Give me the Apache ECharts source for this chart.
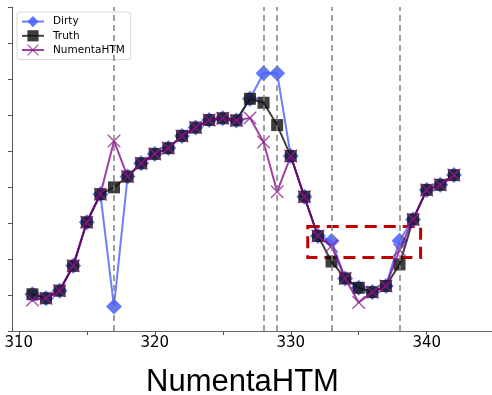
<!DOCTYPE html>
<html>
<head>
<meta charset="utf-8">
<script src="https://cdn.jsdelivr.net/npm/echarts@6/dist/echarts.min.js"></script>
<style>
  html, body { margin: 0; padding: 0; background: #fff; }
  #chart { width: 492px; height: 395px; }
</style>
</head>
<body>
<div id="chart"></div>
<script>
// time steps
var steps = [311, 312, 313, 314, 315, 316, 317, 318, 319, 320, 321, 322, 323, 324, 325, 326,
  327, 328, 329, 330, 331, 332, 333, 334, 335, 336, 337, 338, 339, 340, 341, 342];

var truth = [1.02, 0.91, 1.12, 1.81, 3.02, 3.80, 3.99, 4.29, 4.66, 4.92, 5.08, 5.42, 5.65, 5.86, 5.91, 5.85,
  6.45, 6.34, 5.72, 4.86, 3.73, 2.64, 1.93, 1.46, 1.20, 1.08, 1.25, 1.85, 3.10, 3.92, 4.06, 4.33];

var dirty = [1.02, 0.91, 1.12, 1.81, 3.02, 3.80, 0.68, 4.29, 4.66, 4.92, 5.08, 5.42, 5.65, 5.86, 5.91, 5.85,
  6.45, 7.16, 7.16, 4.86, 3.73, 2.64, 2.50, 1.46, 1.20, 1.08, 1.25, 2.51, 3.10, 3.92, 4.06, 4.33];

var numenta = [0.86, 0.91, 1.12, 1.81, 3.02, 3.80, 5.28, 4.29, 4.66, 4.92, 5.08, 5.42, 5.65, 5.86, 5.91, 5.85,
  5.92, 5.25, 3.87, 4.86, 3.73, 2.64, 2.36, 1.46, 0.79, 1.08, 1.25, 2.25, 3.10, 3.92, 4.06, 4.33];

// injected error positions
var errorSteps = [317, 328, 329, 333, 338];

// highlighted box: [x0, y0], [x1, y1]
var boxFrom = [331.25, 2.9];
var boxTo = [339.55, 2.04];

var xLabels = [310, 320, 330, 340];
var xTicks = [310, 315, 320, 325, 330, 335, 340, 345];

function pairs(vals) {
  return steps.map(function (s, i) { return [s, vals[i]]; });
}

// thin "x" marker
var xMark = 'path://M0,0L0.8,0L5,4.2L9.2,0L10,0L10,0.8L5.8,5L10,9.2L10,10L9.2,10L5,5.8L0.8,10L0,10L0,9.2L4.2,5L0,0.8Z';

var myChart = echarts.init(document.getElementById('chart'));
var option = {
  animation: false,
  textStyle: { fontFamily: 'DejaVu Sans' },
  title: {
    text: 'NumentaHTM',
    left: 141,
    top: 362,
    textStyle: { fontFamily: 'Liberation Sans', fontSize: 31, fontWeight: 'normal', color: '#000' }
  },
  legend: {
    data: ['Dirty', 'Truth', 'NumentaHTM'],
    orient: 'vertical',
    left: 17,
    top: 12,
    padding: [4, 6, 4, 4],
    itemWidth: 22,
    itemHeight: 14,
    itemGap: 3,
    borderColor: '#d8d8d8',
    borderWidth: 1,
    borderRadius: 3,
    backgroundColor: 'rgba(255,255,255,0.85)',
    textStyle: { fontSize: 10.5, color: '#000', padding: [0, 0, 0, 4] }
  },
  grid: {
    left: 12,
    right: 0,
    top: 7,
    bottom: 64
  },
  xAxis: [
    {
      type: 'value',
      min: 309.5,
      max: 344.8,
      splitLine: { show: false },
      axisLine: { lineStyle: { color: '#555' } },
      axisTick: { customValues: xTicks, length: 4, lineStyle: { color: '#555' } },
      axisLabel: { customValues: xLabels, fontSize: 15, color: '#000', margin: 5 }
    },
    {
      type: 'value',
      position: 'top',
      min: 309.5,
      max: 344.8,
      splitLine: { show: false },
      axisLine: { show: true, lineStyle: { color: '#666' } },
      axisTick: { show: false },
      axisLabel: { show: false }
    }
  ],
  yAxis: [
    {
      type: 'value',
      min: 0,
      max: 9,
      interval: 1,
      splitLine: { show: false },
      axisLine: { show: true, lineStyle: { color: '#555' } },
      axisTick: { show: true, length: 4, lineStyle: { color: '#555' } },
      axisLabel: { show: false }
    },
    {
      type: 'value',
      position: 'right',
      min: 0,
      max: 9,
      splitLine: { show: false },
      axisLine: { show: true, lineStyle: { color: '#e4e4e4' } },
      axisTick: { show: false },
      axisLabel: { show: false }
    }
  ],
  series: [
    {
      name: 'marks',
      type: 'line',
      data: [],
      z: 1,
      silent: true,
      markLine: {
        silent: true,
        symbol: 'none',
        label: { show: false },
        lineStyle: { color: '#808080', type: [6, 4], width: 1.5 },
        data: errorSteps.map(function (s) { return { xAxis: s }; })
      }
    },
    {
      name: 'Dirty',
      type: 'line',
      z: 2,
      data: pairs(dirty),
      symbol: 'diamond',
      symbolSize: 16,
      itemStyle: { color: 'rgba(70,95,255,0.85)' },
      lineStyle: { color: 'rgba(70,95,255,0.8)', width: 2 }
    },
    {
      name: 'Truth',
      type: 'line',
      z: 3,
      data: pairs(truth),
      symbol: 'rect',
      symbolSize: 12,
      itemStyle: { color: 'rgba(20,20,20,0.82)' },
      lineStyle: { color: 'rgba(20,20,20,0.8)', width: 2 }
    },
    {
      name: 'NumentaHTM',
      type: 'line',
      z: 4,
      data: pairs(numenta),
      symbol: xMark,
      symbolSize: 13,
      itemStyle: { color: 'rgba(140,30,140,0.75)' },
      lineStyle: { color: 'rgba(128,0,128,0.75)', width: 2 }
    },
    {
      name: 'box',
      type: 'line',
      data: [],
      z: 10,
      silent: true,
      markArea: {
        silent: true,
        itemStyle: {
          color: 'transparent',
          borderColor: '#c00000',
          borderWidth: 3,
          borderType: [12, 7]
        },
        data: [[{ coord: boxFrom }, { coord: boxTo }]]
      }
    }
  ]
};
myChart.setOption(option);
</script>
</body>
</html>
